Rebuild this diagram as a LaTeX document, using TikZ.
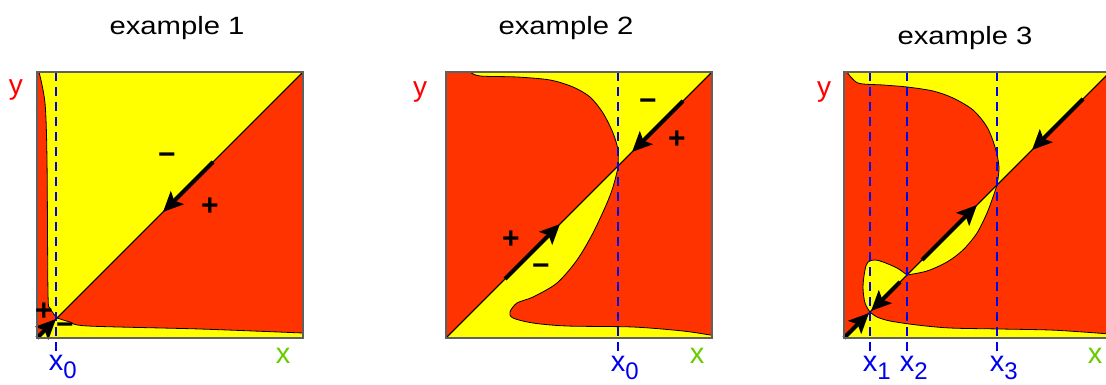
\documentclass[tikz,border=0pt]{standalone}
\usepackage{fontspec}
\setmainfont{Liberation Sans}
\usetikzlibrary{arrows.meta}
\definecolor{fillred}{HTML}{FF3300}
\definecolor{fillyel}{HTML}{FFFF00}
\definecolor{lblue}{HTML}{0000EE}
\definecolor{lgreen}{HTML}{66CC00}
\definecolor{lred}{HTML}{FF0000}
\definecolor{boxgray}{HTML}{606060}
\begin{document}
\begin{tikzpicture}[x=1pt,y=-1pt,
  yelbg/.style={fill=fillyel},
  redreg/.style={fill=fillred, draw=black, line width=0.8pt, line join=round},
  diag/.style={draw=black, line width=0.8pt},
  frame/.style={draw=boxgray, line width=1.6pt},
  dashline/.style={draw=lblue, line width=1.8pt, dash pattern=on 9pt off 6pt},
  flow/.style={draw=black, line width=4pt, -{Stealth[length=20pt,width=18pt,inset=4pt]}},
  ttl/.style={font=\fontsize{25}{25}\selectfont, xscale=1.17, anchor=base},
  ylab/.style={text=lred, font=\fontsize{28}{28}\selectfont, anchor=base},
  xlab/.style={text=lgreen, font=\fontsize{29}{29}\selectfont, anchor=base},
  xsub/.style={text=lblue, font=\fontsize{29}{29}\selectfont, anchor=base west, inner sep=0pt, xshift=-7.25pt},
  sgn/.style={font=\bfseries\fontsize{30}{30}\selectfont, inner sep=0pt}
]
\useasboundingbox (0,0) rectangle (1106,385);
\newcommand{\subx}[1]{x\raisebox{-8pt}{\fontsize{24}{24}\selectfont #1}}

% ================= Panel 1 =================
\fill[yelbg] (37,72) rectangle (303,338);
\path[redreg] (37,72) -- plot[smooth,tension=0.5] coordinates {(39,72) (45,103) (47,160) (48,293) (50,308) (57,318)} -- (37,338) -- cycle;
\path[redreg] (57,318) -- (303,72) -- (303,333) -- plot[smooth,tension=0.5] coordinates {(303,333) (200,329) (88,326) (70,322) (57,318)} -- cycle;
\coordinate (p1bl) at (37,338);
\coordinate (p1tr) at (303,72);
\draw[diag] (p1bl) -- (p1tr);
\coordinate (p1dt) at (56,72);
\coordinate (p1db) at (56,354);
\draw[dashline] (p1dt) -- (p1db);
\coordinate (p1as) at (213,162);
\coordinate (p1at) at (163,212);
\draw[flow] (p1as) -- (p1at);
\coordinate (p1bs) at (37,338);
\coordinate (p1bt) at (56,319);
\draw[flow] (p1bs) -- (p1bt);
\draw[frame] (37,72) rectangle (303,338);
\node[sgn] (p1m1) at (167,159) {−};
\node[sgn] (p1p1) at (210,207) {+};
\node[sgn] (p1p2) at (44,312) {+};
\node[sgn] (p1m2) at (65,329) {−};
\node[ttl] (t1) at (177,35) {example 1};
\node[ylab] (y1) at (16,95) {y};
\node[xlab] (xx1) at (283,363) {x};
\node[xsub] (x0a) at (56,370) {\subx{0}};

% ================= Panel 2 =================
\fill[yelbg] (446,72) rectangle (712,338);
\path[redreg] (446,338) -- (446,72) -- (470,72) -- plot[smooth,tension=0.5] coordinates {(470,72) (480,76) (517,77) (550,80) (573,87) (590,97) (603,113) (613,133) (618,150) (618,166)} -- cycle;
\path[redreg] (618,166) -- (712,72) -- (712,335) -- plot[smooth,tension=0.5] coordinates {(710,335) (683,331) (633,327) (567,326) (533,323) (513,318) (510,312) (517,303) (533,297) (557,283) (577,260) (593,233) (607,203) (613,187) (617,172) (618,166)} -- cycle;
\coordinate (p2bl) at (446,338);
\coordinate (p2tr) at (712,72);
\draw[diag] (p2bl) -- (p2tr);
\coordinate (p2dt) at (618,72);
\coordinate (p2db) at (618,354);
\draw[dashline] (p2dt) -- (p2db);
\coordinate (p2as) at (683,101);
\coordinate (p2at) at (632,152);
\draw[flow] (p2as) -- (p2at);
\coordinate (p2bs) at (505,279);
\coordinate (p2bt) at (560,224);
\draw[flow] (p2bs) -- (p2bt);
\draw[frame] (446,72) rectangle (712,338);
\node[sgn] (p2m1) at (648,105) {−};
\node[sgn] (p2p1) at (677,140) {+};
\node[sgn] (p2p2) at (511,240) {+};
\node[sgn] (p2m2) at (541,270) {−};
\node[ttl] (t2) at (566,35) {example 2};
\node[ylab] (y2) at (420,97) {y};
\node[xlab] (xx2) at (697,363) {x};
\node[xsub] (x0b) at (618,371) {\subx{0}};

% ================= Panel 3 =================
\fill[yelbg] (844,72) rectangle (1110,338);
\path[redreg] (844,338) -- (844,72) -- (847,72) -- plot[smooth,tension=0.5] coordinates {(847,72) (858,83) (883,85) (907,87) (933,91) (953,98) (973,110) (987,127) (995,147) (999,167) (997,185)} -- (907,275) -- plot[smooth,tension=0.55] coordinates {(907,275) (897,268) (883,262) (875,260) (868,262) (865,270) (863,287) (865,303) (870,312)} -- cycle;
\path[redreg] (870,312) -- plot[smooth,tension=0.5] coordinates {(870,312) (877,317) (890,321) (917,325) (950,328) (1000,329) (1050,330) (1083,332) (1110,334)} -- (1110,72) -- (997,185) -- plot[smooth,tension=0.5] coordinates {(997,185) (993,197) (987,213) (977,233) (963,250) (947,262) (927,271) (907,275)} -- cycle;
\coordinate (p3bl) at (844,338);
\coordinate (p3tr) at (1110,72);
\draw[diag] (p3bl) -- (p3tr);
\coordinate (p3d1t) at (870,72);
\coordinate (p3d1b) at (870,354);
\coordinate (p3d2t) at (907,72);
\coordinate (p3d2b) at (907,354);
\coordinate (p3d3t) at (997,72);
\coordinate (p3d3b) at (997,354);
\draw[dashline] (p3d1t) -- (p3d1b);
\draw[dashline] (p3d2t) -- (p3d2b);
\draw[dashline] (p3d3t) -- (p3d3b);
\coordinate (p3as) at (1083,99);
\coordinate (p3at) at (1032,150);
\draw[flow] (p3as) -- (p3at);
\coordinate (p3bs) at (922,260);
\coordinate (p3bt) at (977,205);
\draw[flow] (p3bs) -- (p3bt);
\coordinate (p3cs) at (900,282);
\coordinate (p3ct) at (871,311);
\draw[flow] (p3cs) -- (p3ct);
\coordinate (p3ds) at (844,338);
\coordinate (p3dt) at (869,313);
\draw[flow] (p3ds) -- (p3dt);
\draw[frame] (844,72) rectangle (1110,338);
\node[ttl] (t3) at (965,45) {example 3};
\node[ylab] (y3) at (824,97) {y};
\node[xlab] (xx3) at (1095,363) {x};
\node[xsub] (x1) at (870,371) {\subx{1}};
\node[xsub] (x2) at (907,371) {\subx{2}};
\node[xsub] (x3) at (997,371) {\subx{3}};
\end{tikzpicture}
\end{document}
